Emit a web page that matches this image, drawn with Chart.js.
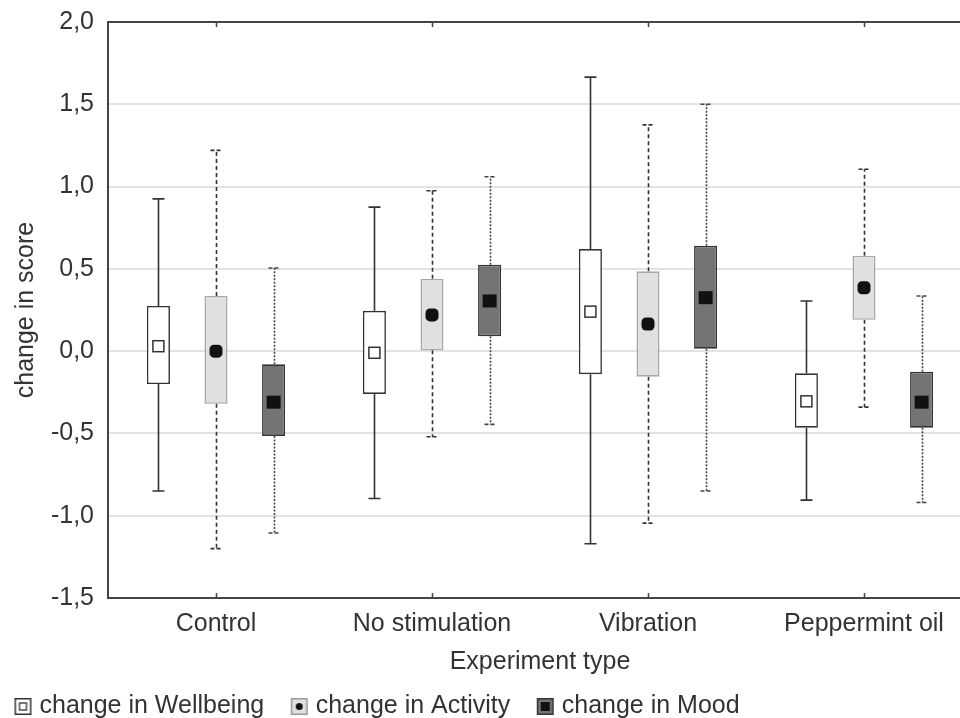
<!DOCTYPE html>
<html>
<head>
<meta charset="utf-8">
<script src="https://cdn.jsdelivr.net/npm/chart.js@4.4.1/dist/chart.umd.min.js"></script>
<style>
  html, body { margin: 0; padding: 0; background: #fff; overflow: hidden; }
  #wrap { position: relative; width: 980px; height: 729px; }
</style>
</head>
<body>
<div id="wrap"><canvas id="c"></canvas></div>
<script>
// ---- data ----
const categories = ['Control', 'No stimulation', 'Vibration', 'Peppermint oil'];
const seriesNames = ['change in Wellbeing', 'change in Activity', 'change in Mood'];

const wellbeingMin  = [-0.85, -0.895, -1.17, -0.905];
const wellbeingQ1   = [-0.20, -0.26, -0.14, -0.465];
const wellbeingMean = [0.03, -0.01, 0.24, -0.305];
const wellbeingQ3   = [0.275, 0.245, 0.62, -0.135];
const wellbeingMax  = [0.925, 0.875, 1.665, 0.305];

const activityMin  = [-1.20, -0.52, -1.045, -0.34];
const activityQ1   = [-0.32, 0.005, -0.155, 0.19];
const activityMean = [0.0, 0.22, 0.165, 0.385];
const activityQ3   = [0.335, 0.44, 0.485, 0.58];
const activityMax  = [1.22, 0.975, 1.375, 1.105];

const moodMin  = [-1.105, -0.445, -0.85, -0.92];
const moodQ1   = [-0.515, 0.09, 0.015, -0.465];
const moodMean = [-0.31, 0.305, 0.325, -0.31];
const moodQ3   = [-0.08, 0.525, 0.64, -0.125];
const moodMax  = [0.505, 1.06, 1.50, 0.335];

const yTickValues = [-1.5, -1.0, -0.5, 0.0, 0.5, 1.0, 1.5, 2.0];
const yTickLabels = ['-1,5', '-1,0', '-0,5', '0,0', '0,5', '1,0', '1,5', '2,0'];

// ---- styles ----
const FONT = '"Liberation Sans", Arial, sans-serif';
const FS = 25;
const TEXT = '#333333';
const styles = [
  { fill: '#ffffff', border: '#333333', whiskerDash: [],       whiskerColor: '#333333', mean: 'hollow' },
  { fill: '#e0e0e0', border: '#a8a8a8', whiskerDash: [4, 3],   whiskerColor: '#333333', mean: 'round'  },
  { fill: '#747474', border: '#333333', whiskerDash: [2, 1.5], whiskerColor: '#444444', mean: 'solid' }
];

const stats = [
  { min: wellbeingMin, q1: wellbeingQ1, mean: wellbeingMean, q3: wellbeingQ3, max: wellbeingMax },
  { min: activityMin,  q1: activityQ1,  mean: activityMean,  q3: activityQ3,  max: activityMax  },
  { min: moodMin,      q1: moodQ1,      mean: moodMean,      q3: moodQ3,      max: moodMax      }
];

// legend icons: image is 43 wide, icon (17px) at its right part
function makeIcon(i) {
  const c = document.createElement('canvas');
  c.width = 43; c.height = 19;
  const g = c.getContext('2d');
  const s = styles[i];
  const ox = 24, oy = 1, sz = 17;
  g.fillStyle = s.fill;
  g.fillRect(ox, oy, sz, sz);
  g.lineWidth = 1.5;
  g.strokeStyle = i === 1 ? '#9a9a9a' : '#333333';
  g.strokeRect(ox + 0.75, oy + 0.75, sz - 1.5, sz - 1.5);
  const cx = ox + sz / 2, cy = oy + sz / 2;
  if (i === 0) {
    g.strokeStyle = '#333'; g.lineWidth = 1.3;
    g.strokeRect(cx - 3.5, cy - 3.5, 7, 7);
  } else if (i === 1) {
    g.fillStyle = '#111';
    g.beginPath(); g.arc(cx, cy, 3.5, 0, Math.PI * 2); g.fill();
  } else {
    g.fillStyle = '#111';
    g.fillRect(cx - 4.5, cy - 4.5, 9, 9);
  }
  return c;
}
const icons = [0, 1, 2].map(makeIcon);

const boxPlugin = {
  id: 'boxExtras',
  beforeDatasetsDraw(chart) {
    const ctx = chart.ctx;
    const y = chart.scales.y;
    ctx.save();
    stats.forEach((st, di) => {
      const meta = chart.getDatasetMeta(di);
      const s = styles[di];
      meta.data.forEach((bar, k) => {
        const x = Math.round(bar.x) + 0.5;
        const yMax = y.getPixelForValue(st.max[k]);
        const yQ3 = y.getPixelForValue(st.q3[k]);
        const yQ1 = y.getPixelForValue(st.q1[k]);
        const yMin = y.getPixelForValue(st.min[k]);
        ctx.strokeStyle = s.whiskerColor;
        ctx.lineWidth = 1.6;
        ctx.setLineDash(s.whiskerDash);
        ctx.beginPath();
        ctx.moveTo(x, yQ3); ctx.lineTo(x, yMax);
        ctx.moveTo(x, yQ1); ctx.lineTo(x, yMin);
        ctx.stroke();
        ctx.setLineDash(di === 0 ? [] : [4, 2]);
        ctx.beginPath();
        ctx.moveTo(x - 6, yMax); ctx.lineTo(x + 6, yMax);
        ctx.moveTo(x - 6, yMin); ctx.lineTo(x + 6, yMin);
        ctx.stroke();
      });
    });
    ctx.restore();
  },
  afterDatasetsDraw(chart) {
    const ctx = chart.ctx;
    const y = chart.scales.y;
    ctx.save();
    stats.forEach((st, di) => {
      const meta = chart.getDatasetMeta(di);
      const s = styles[di];
      meta.data.forEach((bar, k) => {
        const x = bar.x;
        const ym = y.getPixelForValue(st.mean[k]);
        if (s.mean === 'hollow') {
          ctx.fillStyle = '#fff';
          ctx.fillRect(x - 6, ym - 6, 12, 12);
          ctx.strokeStyle = '#333'; ctx.lineWidth = 1.5;
          ctx.strokeRect(x - 5.5, ym - 5.5, 11, 11);
        } else if (s.mean === 'round') {
          ctx.fillStyle = '#111';
          ctx.beginPath();
          ctx.roundRect(x - 6.5, ym - 6.5, 13, 13, 4.5);
          ctx.fill();
        } else {
          ctx.fillStyle = '#111';
          ctx.fillRect(x - 7, ym - 6.5, 14, 13);
        }
      });
    });
    ctx.restore();
  },
  afterDraw(chart) {
    const ctx = chart.ctx;
    const a = chart.chartArea;
    const xs = chart.scales.x;
    ctx.save();
    ctx.strokeStyle = '#444';
    ctx.lineWidth = 2;
    ctx.beginPath();
    ctx.moveTo(a.left - 1, a.top); ctx.lineTo(a.right, a.top);
    ctx.stroke();
    ctx.lineWidth = 1.5;
    ctx.beginPath();
    categories.forEach((c, i) => {
      const px = Math.round(xs.getPixelForValue(i)) + 0.5;
      ctx.moveTo(px, a.top); ctx.lineTo(px, a.top + 5);
      ctx.moveTo(px, a.bottom); ctx.lineTo(px, a.bottom - 5);
    });
    ctx.stroke();
    ctx.restore();
  }
};

const datasets = stats.map((st, di) => ({
  label: seriesNames[di],
  data: st.q1.map((v, k) => [v, st.q3[k]]),
  backgroundColor: styles[di].fill,
  borderColor: styles[di].border,
  borderWidth: 1.6,
  borderSkipped: false,
  categoryPercentage: 0.8,
  barPercentage: 0.4
}));

new Chart(document.getElementById('c'), {
  type: 'bar',
  data: { labels: categories, datasets },
  plugins: [boxPlugin],
  options: {
    responsive: true,
    maintainAspectRatio: false,
    devicePixelRatio: 1,
    animation: false,
    layout: { padding: { top: 22, right: 8, left: -12, bottom: 0 } },
    plugins: {
      tooltip: { enabled: false },
      legend: {
        position: 'bottom',
        align: 'start',
        onClick: null,
        labels: {
          usePointStyle: true,
          pointStyleWidth: 30,
          boxHeight: 18,
          padding: 9,
          color: TEXT,
          font: { family: FONT, size: FS },
          generateLabels: (chart) => seriesNames.map((n, i) => ({
            text: n, pointStyle: icons[i], fillStyle: styles[i].fill,
            strokeStyle: styles[i].border, lineWidth: 0, datasetIndex: i, hidden: false, fontColor: TEXT
          }))
        }
      }
    },
    scales: {
      x: {
        type: 'category',
        grid: { display: false, drawTicks: false },
        border: { display: true, color: '#444', width: 2 },
        ticks: { color: TEXT, font: { family: FONT, size: FS }, padding: 11, maxRotation: 0 },
        title: { display: true, text: 'Experiment type', color: TEXT, font: { family: FONT, size: FS }, padding: { top: 0, bottom: 8 } },
        afterFit: (scale) => { scale.height = 87; }
      },
      y: {
        min: -1.5, max: 2.0,
        afterBuildTicks: (scale) => { scale.ticks = yTickValues.map(v => ({ value: v })); },
        grid: { color: '#e2e2e2', lineWidth: 2, drawTicks: false },
        border: { display: true, color: '#444', width: 2 },
        ticks: {
          color: TEXT, font: { family: FONT, size: FS }, padding: 14,
          callback: (v) => { const i = yTickValues.indexOf(Number(Number(v).toFixed(1))); return i >= 0 ? yTickLabels[i] : ''; }
        },
        title: { display: true, text: 'change in score', color: TEXT, font: { family: FONT, size: FS }, padding: { top: 23, bottom: 0 } },
        afterFit: (scale) => { scale.width = 120; scale.paddingTop = 0; scale.paddingBottom = 0; }
      }
    }
  }
});
</script>
</body>
</html>
